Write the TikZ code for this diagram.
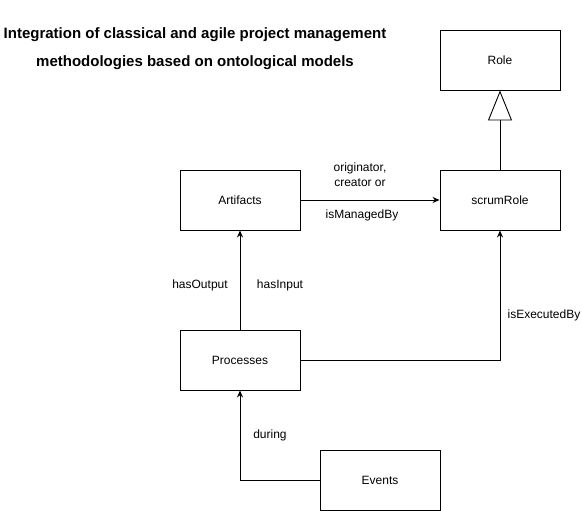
\documentclass[tikz,border=0pt]{standalone}
\usepackage{fontspec}
\setmainfont{Liberation Sans}
\usetikzlibrary{arrows.meta}
\begin{document}
\begin{tikzpicture}[x=1pt, y=-1pt, >={Stealth[length=7pt,width=6pt]}, line width=0.9pt,
		box/.style={draw, minimum width=120pt, minimum height=60pt, inner sep=0pt, font=\fontsize{12}{14}\selectfont},
		lbl/.style={font=\fontsize{12}{14}\selectfont, inner sep=0pt}]
			\useasboundingbox (0,0) rectangle (582,511);
			% title
			\node[font=\bfseries\fontsize{15}{17}\selectfont, inner sep=0pt] (title1) at (195,35) {Integration of classical and agile project management};
			\node[font=\bfseries\fontsize{15}{17}\selectfont, inner sep=0pt] (title2) at (195,63) {methodologies based on ontological models};
			% classes
			\node[box] (role) at (500,60) {Role};
			\node[box] (scrum) at (500,200) {scrumRole};
			\node[box] (artifacts) at (240,200) {Artifacts};
			\node[box] (processes) at (240,360) {Processes};
			\node[box] (events) at (380,480) {Events};
			% relations
			\draw[-{Triangle[open,length=30pt,width=24pt]}] (scrum) -- (role);
			\draw[->] (artifacts) -- (scrum);
			\draw[->] (processes) -- (artifacts);
			\draw[->] (processes.east) -| (scrum.south);
			\draw[->] (events.west) -| (processes.south);
			% labels
			\node[lbl] (orig) at (360,168) {originator,};
			\node[lbl] (creat) at (360,183) {creator or};
			\node[lbl] (managed) at (362,215) {isManagedBy};
			\node[lbl] (hasout) at (200,285) {hasOutput};
			\node[lbl] (hasin) at (280,285) {hasInput};
			\node[lbl] (exec) at (544,315) {isExecutedBy};
			\node[lbl] (during) at (270,435) {during};
		\end{tikzpicture}
\end{document}
